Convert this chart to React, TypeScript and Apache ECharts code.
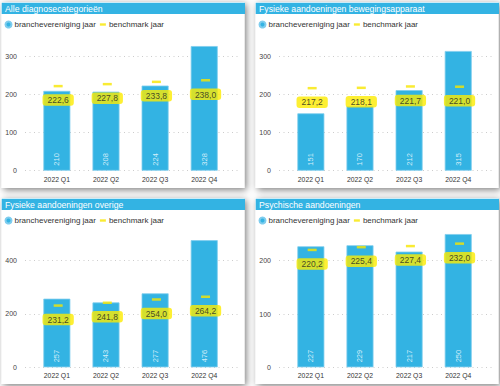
import React, { useEffect, useRef } from "react";
import * as echarts from "echarts";

const quarters = ["2022 Q1", "2022 Q2", "2022 Q3", "2022 Q4"];
const panelTitles = [
  "Alle diagnosecategorieën",
  "Fysieke aandoeningen bewegingsapparaat",
  "Fysieke aandoeningen overige",
  "Psychische aandoeningen",
];
const barName = "branchevereniging jaar";
const benchName = "benchmark jaar";

const allBars = [210, 208, 224, 328];
const allBench = [222.6, 227.8, 233.8, 238.0];
const bewegingBars = [151, 170, 212, 315];
const bewegingBench = [217.2, 218.1, 221.7, 221.0];
const overigeBars = [257, 243, 277, 476];
const overigeBench = [231.2, 241.8, 254.0, 264.2];
const psychBars = [227, 229, 217, 250];
const psychBench = [220.2, 225.4, 227.4, 232.0];

const barSets = [allBars, bewegingBars, overigeBars, psychBars];
const benchSets = [allBench, bewegingBench, overigeBench, psychBench];
const yMaxes = [350, 350, 490, 258];
const yIntervals = [100, 100, 200, 100];

// layout only
const layouts = [
  { ox: 0, oy: 0, y0: 170.7, k: 0.38 },
  { ox: 254, oy: 0, y0: 170.7, k: 0.38 },
  { ox: 0, oy: 196, y0: 367.3, k: 0.267 },
  { ox: 254, oy: 196, y0: 367.3, k: 0.533 },
];

const BLUE = "#33b3e3";
const YELLOW = "#f7e600";
const FONT = "Liberation Sans, Arial, sans-serif";

export default function App() {
  const ref = useRef<HTMLDivElement>(null);
  useEffect(() => {
    if (!ref.current) return;
    const chart = echarts.init(ref.current, null, { renderer: "svg" });
    const grids: any[] = [];
    const xAxes: any[] = [];
    const yAxes: any[] = [];
    const series: any[] = [];
    const legends: any[] = [];
    const graphics: any[] = [];

    layouts.forEach((L, i) => {
      const h = yMaxes[i] * L.k;
      const top = L.y0 - h;
      graphics.push({
        type: "rect",
        silent: true,
        z: -10,
        shape: { x: L.ox + 1.5, y: L.oy + 2, width: 243, height: 186 },
        style: {
          fill: "#fff",
          shadowBlur: 7,
          shadowOffsetX: 2,
          shadowOffsetY: 2,
          shadowColor: "rgba(0,0,0,0.5)",
        },
      });
      graphics.push({
        type: "rect",
        silent: true,
        z: -9,
        shape: { x: L.ox + 1.7, y: L.oy + 2.7, width: 243.3, height: 11.3 },
        style: { fill: BLUE },
      });
      graphics.push({
        type: "text",
        silent: true,
        z: -8,
        x: L.ox + 5,
        y: L.oy + 8.6,
        style: {
          text: panelTitles[i],
          fill: "#fff",
          font: `8.7px ${FONT}`,
          verticalAlign: "middle",
        },
      });
      legends.push({
        left: L.ox + 4.5,
        top: L.oy + 20.5,
        itemWidth: 6,
        itemHeight: 6,
        itemGap: 4,
        padding: 0,
        textStyle: { fontSize: 8, color: "#333", fontFamily: FONT, padding: [0, 0, 0, -2] },
        data: [
          { name: barName, icon: "circle" },
          { name: benchName, icon: "path://M0,0H10V4H0Z" },
        ],
      });
      grids.push({ left: L.ox + 32.3, top, width: 196.5, height: h });
      grids.push({ left: L.ox + 25, top, width: 215, height: h });
      xAxes.push({
        type: "category",
        gridIndex: 2 * i,
        data: quarters,
        axisLine: { show: false },
        axisTick: { show: false },
        axisLabel: { color: "#333", fontSize: 6.8, margin: 5, fontFamily: FONT },
      });
      xAxes.push({ type: "category", gridIndex: 2 * i + 1, data: quarters, show: false });
      yAxes.push({
        type: "value",
        gridIndex: 2 * i,
        min: 0,
        max: yMaxes[i],
        interval: yIntervals[i],
        show: false,
        splitLine: { show: false },
      });
      yAxes.push({
        type: "value",
        gridIndex: 2 * i + 1,
        min: 0,
        max: yMaxes[i],
        interval: yIntervals[i],
        axisLine: { show: false },
        axisTick: { show: false },
        axisLabel: { color: "#444", fontSize: 7, margin: 8, showMaxLabel: false, fontFamily: FONT },
        splitLine: {
          show: true,
          showMaxLine: false,
          lineStyle: { color: "#cccccc", type: [1, 3.5], width: 1 },
        },
      });
      series.push({
        type: "bar",
        name: barName,
        xAxisIndex: 2 * i,
        yAxisIndex: 2 * i,
        data: barSets[i],
        barWidth: 27,
        itemStyle: { color: BLUE, borderColor: "#7fcdee", borderWidth: 0.8 },
        label: {
          show: true,
          position: "insideBottom",
          rotate: 90,
          align: "left",
          verticalAlign: "middle",
          distance: 5,
          color: "#d4eef9",
          fontSize: 7.5,
          fontFamily: FONT,
        },
      });
      series.push({
        type: "scatter",
        name: benchName,
        xAxisIndex: 2 * i,
        yAxisIndex: 2 * i,
        data: benchSets[i],
        symbol: "rect",
        symbolSize: [9, 2.5],
        symbolOffset: [1.3, 0],
        itemStyle: { color: YELLOW },
        z: 5,
        label: {
          show: true,
          position: "bottom",
          distance: 7,
          formatter: (p: any) => Number(p.value).toFixed(1).replace(".", ","),
          backgroundColor: "#fdeb00",
          borderRadius: 3,
          padding: [1.5, 5, 1, 5],
          color: "#222",
          fontSize: 8.5,
          fontFamily: FONT,
        },
      });
    });

    chart.setOption({
      animation: false,
      backgroundColor: "#fff",
      textStyle: { fontFamily: FONT },
      grid: grids,
      xAxis: xAxes,
      yAxis: yAxes,
      legend: legends,
      series,
      graphic: graphics,
    });
    return () => chart.dispose();
  }, []);
  return (
    <div
      ref={ref}
      style={{ position: "absolute", left: 0, top: 0, width: 500, height: 386 }}
    />
  );
}
